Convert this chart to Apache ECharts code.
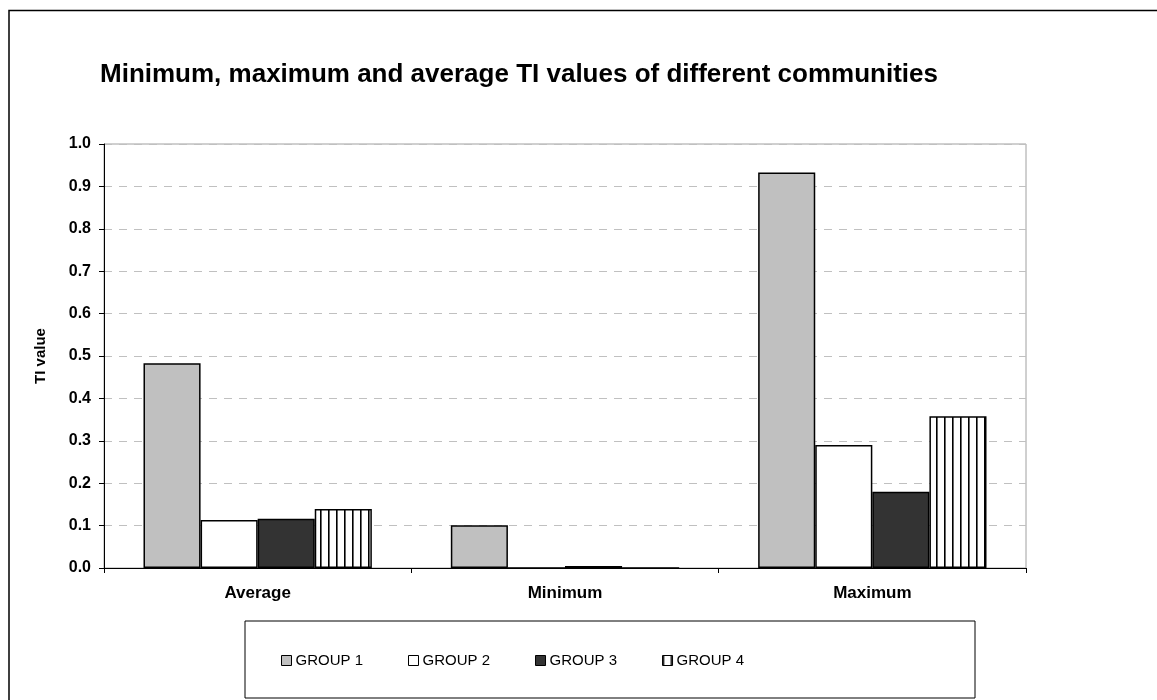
<!DOCTYPE html>
<html>
<head>
<meta charset="utf-8">
<script src="https://cdn.jsdelivr.net/npm/echarts@6/dist/echarts.min.js"></script>
<style>
  html, body { margin: 0; padding: 0; background: #fff; }
  #chart { width: 1157px; height: 700px; }
</style>
</head>
<body>
<div id="chart"></div>
<script>
// Data
const categories = ['Average', 'Minimum', 'Maximum'];
const seriesNames = ['GROUP 1', 'GROUP 2', 'GROUP 3', 'GROUP 4'];
const group1 = [0.483, 0.101, 0.933];
const group2 = [0.113, 0.0, 0.290];
const group3 = [0.116, 0.005, 0.180];
const group4 = [0.139, 0.0, 0.358];
const yTicks = ['0.0', '0.1', '0.2', '0.3', '0.4', '0.5', '0.6', '0.7', '0.8', '0.9', '1.0'];

// Vertical stripe fill for GROUP 4
function stripePattern() {
  const c = document.createElement('canvas');
  c.width = 8; c.height = 8;
  const ctx = c.getContext('2d');
  ctx.fillStyle = '#ffffff';
  ctx.fillRect(0, 0, 8, 8);
  ctx.fillStyle = '#000000';
  ctx.fillRect(0, 0, 1.6, 8);
  return c;
}

const fills = ['#c0c0c0', '#ffffff', '#333333', { image: stripePattern(), repeat: 'repeat' }];
const values = [group1, group2, group3, group4];

const chart = echarts.init(document.getElementById('chart'), null, { renderer: 'canvas' });

const font = '"Liberation Sans", Arial, sans-serif';

chart.setOption({
  animation: false,
  backgroundColor: '#ffffff',
  textStyle: { fontFamily: font },
  title: {
    text: 'Minimum, maximum and average TI values of different communities',
    left: 100,
    top: 62,
    padding: 0,
    textStyle: { fontFamily: font, fontSize: 26, fontWeight: 'bold', color: '#000' }
  },
  graphic: [
    {
      type: 'rect',
      shape: { x: 9, y: 10.5, width: 1200, height: 800 },
      style: { fill: 'none', stroke: '#000', lineWidth: 1.5 },
      silent: true
    },
    {
      type: 'rect',
      shape: { x: 245, y: 621, width: 730, height: 77 },
      style: { fill: 'none', stroke: '#000', lineWidth: 1 },
      silent: true
    }
  ],
  legend: {
    data: seriesNames,
    left: 281,
    top: 653,
    padding: 0,
    itemWidth: 10,
    itemHeight: 10,
    itemGap: 45,
    icon: 'rect',
    textStyle: { fontFamily: font, fontSize: 15, color: '#000', padding: [0, 0, 0, -1] },
    itemStyle: { borderColor: '#000', borderWidth: 1 }
  },
  grid: {
    left: 104,
    right: 131,
    top: 144,
    bottom: 132,
    show: true,
    borderColor: '#a0a0a0',
    borderWidth: 1,
    backgroundColor: 'transparent'
  },
  xAxis: {
    type: 'category',
    data: categories,
    axisLine: { lineStyle: { color: '#000', width: 1 } },
    axisTick: { show: true, length: 5, lineStyle: { color: '#000' } },
    axisLabel: {
      fontFamily: font, fontSize: 17, fontWeight: 'bold', color: '#000', margin: 17
    }
  },
  yAxis: {
    type: 'value',
    min: 0,
    max: 1,
    interval: 0.1,
    name: 'TI value',
    nameLocation: 'middle',
    nameGap: 56,
    nameRotate: 90,
    nameTextStyle: { fontFamily: font, fontSize: 15, fontWeight: 'bold', color: '#000' },
    axisLine: { show: true, lineStyle: { color: '#000', width: 1 } },
    axisTick: { show: true, length: 5, lineStyle: { color: '#000' } },
    axisLabel: {
      fontFamily: font, fontSize: 16, fontWeight: 'bold', color: '#000', margin: 13,
      formatter: function (v) { return yTicks[Math.round(v * 10)]; }
    },
    splitLine: { show: true, lineStyle: { color: '#c0c0c0', type: [8, 7], width: 1 } }
  },
  series: seriesNames.map(function (name, i) {
    return {
      name: name,
      type: 'bar',
      data: values[i],
      barGap: '0%',
      barCategoryGap: '25.7%',
      itemStyle: { color: fills[i], borderColor: '#000', borderWidth: 1.5 }
    };
  })
});
</script>
</body>
</html>
